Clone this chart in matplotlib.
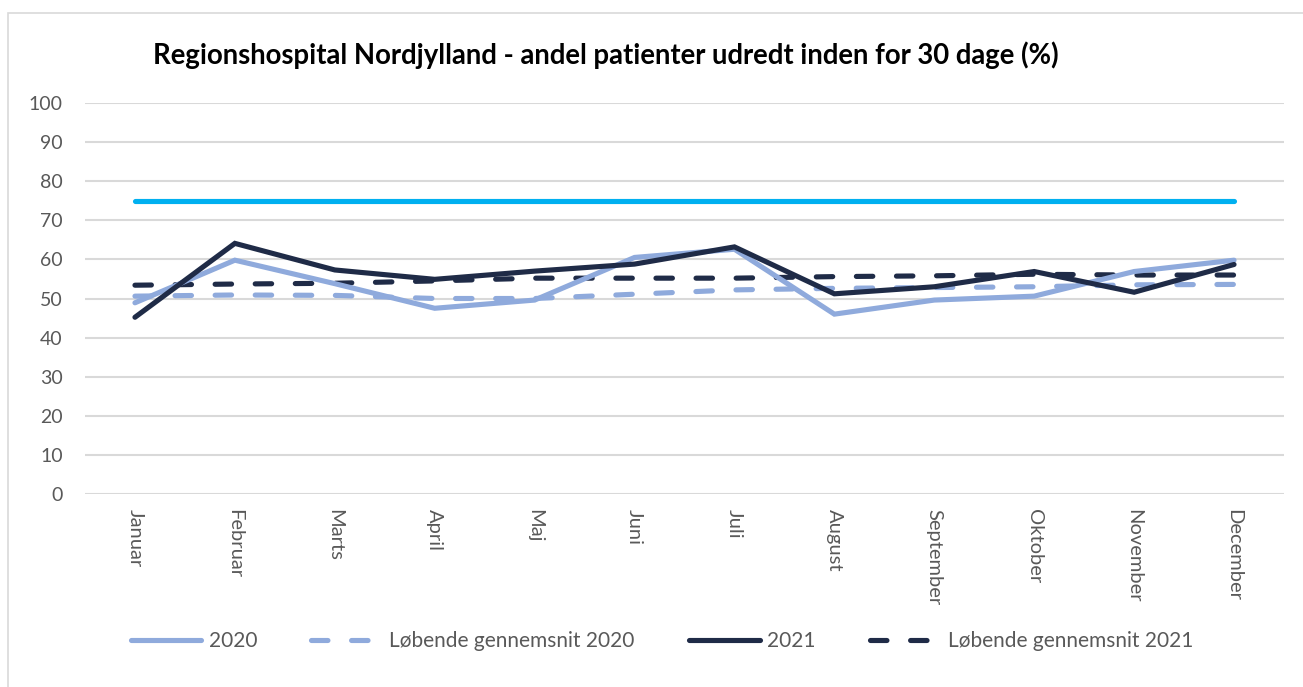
import matplotlib.pyplot as plt
from matplotlib.lines import Line2D
from matplotlib.patches import Rectangle

months = ['Januar', 'Februar', 'Marts', 'April', 'Maj', 'Juni', 'Juli',
          'August', 'September', 'Oktober', 'November', 'December']
y2020 = [48.9, 59.8, 53.8, 47.5, 49.6, 60.5, 62.6, 46.0, 49.6, 50.6, 56.9, 59.8]
avg2020 = [50.6, 50.9, 50.8, 50.0, 50.0, 51.1, 52.2, 52.6, 52.8, 53.0, 53.5, 53.6]
y2021 = [45.2, 64.1, 57.3, 54.9, 57.0, 58.8, 63.2, 51.2, 53.0, 56.9, 51.6, 58.7]
avg2021 = [53.4, 53.7, 53.9, 54.5, 55.2, 55.2, 55.2, 55.6, 55.8, 56.2, 56.0, 56.0]
target = [75] * 12
yticks = list(range(0, 101, 10))

light = '#8FAADC'
navy = '#1F2B47'
cyan = '#00B0F0'
grey = '#595959'

plt.rcParams['font.family'] = ['Lato', 'DejaVu Sans']

fig = plt.figure(figsize=(13.03, 6.87), dpi=100)
fig.patches.append(Rectangle((8 / 1303, -0.1), 1.2, 1.1 - 13 / 687,
                             transform=fig.transFigure, fill=False,
                             edgecolor='#D9D9D9', linewidth=1.2))
ax = fig.add_axes([85 / 1303, 1 - 494 / 687, 1199 / 1303, 391 / 687])

x = range(len(months))
dash = (0, (3.2, 4.6))
lw = 3.7
ax.plot(x, target, color=cyan, lw=lw, solid_capstyle='round')
ax.plot(x, avg2020, color=light, lw=lw, linestyle=dash, dash_capstyle='round')
ax.plot(x, avg2021, color=navy, lw=lw, linestyle=dash, dash_capstyle='round')
ax.plot(x, y2020, color=light, lw=lw, solid_capstyle='round', solid_joinstyle='miter')
ax.plot(x, y2021, color=navy, lw=lw, solid_capstyle='round', solid_joinstyle='miter')

ax.set_xlim(-0.5, 11.5)
ax.set_ylim(0, 100)
ax.set_yticks(yticks)
ax.set_xticks(list(x))
ax.set_xticklabels(months, rotation=-90, va='top', ha='center')
ax.tick_params(length=0, labelcolor=grey)
ax.tick_params(axis='y', pad=16, labelsize=14)
ax.tick_params(axis='x', pad=11, labelsize=14.5)
ax.grid(axis='y', color='#D9D9D9', lw=1.5)
ax.set_axisbelow(True)
for s in ax.spines.values():
    s.set_visible(False)

fig.text(0.465, 1 - 55 / 687, 'Regionshospital Nordjylland - andel patienter udredt inden for 30 dage (%)',
         ha='center', va='center', fontsize=19.8, fontweight='bold', color='black')

handles = [
    Line2D([], [], color=light, lw=lw, solid_capstyle='round'),
    Line2D([], [], color=light, lw=lw, linestyle=dash, dash_capstyle='round'),
    Line2D([], [], color=navy, lw=lw, solid_capstyle='round'),
    Line2D([], [], color=navy, lw=lw, linestyle=dash, dash_capstyle='round'),
]
labels = ['2020', 'Løbende gennemsnit 2020', '2021', 'Løbende gennemsnit 2021']
fig.legend(handles, labels, loc='center', bbox_to_anchor=(0.508, 1 - 641 / 687),
           ncol=4, frameon=False, fontsize=15, labelcolor=grey,
           handlelength=3.4, handletextpad=0.35, columnspacing=2.6)

fig.savefig('out.png', dpi=100)
